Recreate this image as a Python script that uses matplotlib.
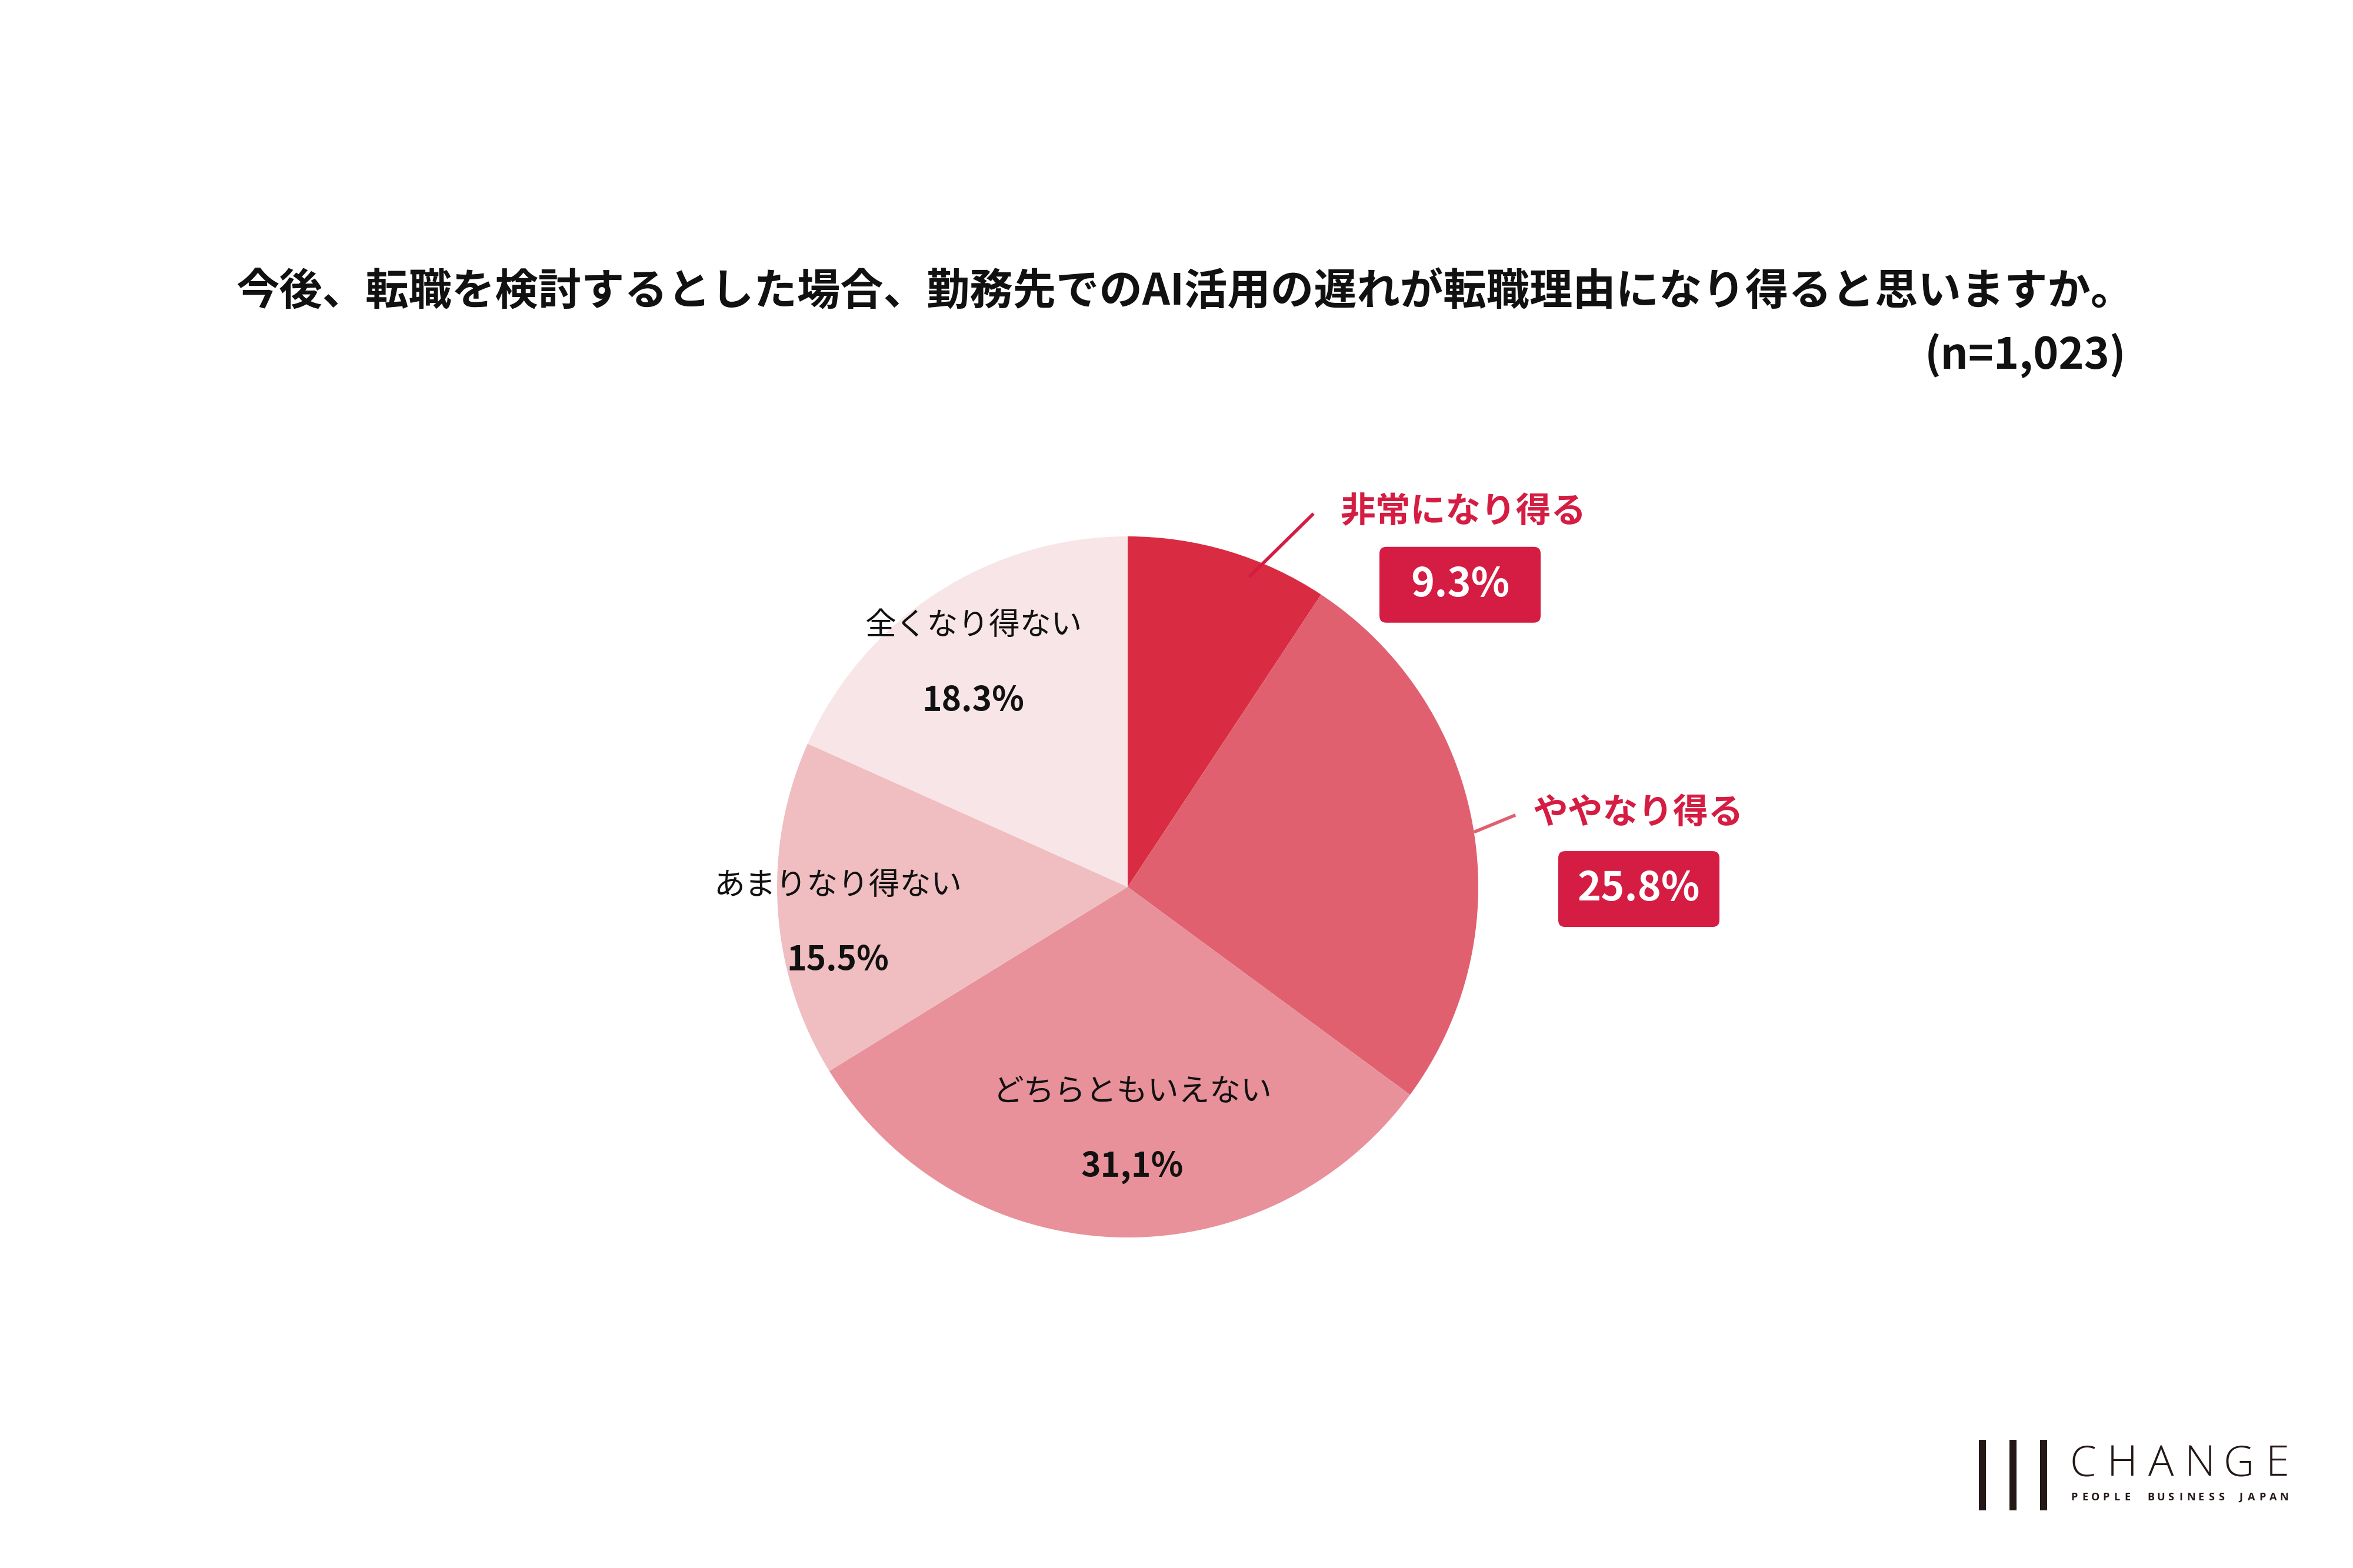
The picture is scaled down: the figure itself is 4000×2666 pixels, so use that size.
import matplotlib
matplotlib.use("Agg")
import matplotlib.pyplot as plt
from matplotlib.patches import FancyBboxPatch, Rectangle
import numpy as np

plt.rcParams['font.family'] = ['Noto Sans CJK JP', 'DejaVu Sans']

# data
labels = ["非常になり得る", "ややなり得る", "どちらともいえない", "あまりなり得ない", "全くなり得ない"]
values = [9.3, 25.8, 31.1, 15.5, 18.3]
value_texts = ["9.3%", "25.8%", "31,1%", "15.5%", "18.3%"]
colors = ["#D92B41", "#E06070", "#E8919A", "#F0BEC1", "#F8E5E7"]

title = "今後、転職を検討するとした場合、勤務先でのAI活用の遅れが転職理由になり得ると思いますか。"
n_text = "(n=1,023)"

accent = "#D51C42"

fig = plt.figure(figsize=(40, 26.66), dpi=100)
fig.patch.set_facecolor("white")

# pie axes: centre (1917, 1508) px, radius 596 px
W, H = 4000, 2666
cx, cy, r = 1917, 1508, 596
ax = fig.add_axes([(cx - r) / W, (H - cy - r) / H, 2 * r / W, 2 * r / H])
wedges, _ = ax.pie(values, colors=colors, startangle=90, counterclock=False,
                   radius=1, wedgeprops=dict(linewidth=0))
ax.set_xlim(-1, 1)
ax.set_ylim(-1, 1)
ax.set_aspect("equal")
ax.axis("off")

# inner labels (slices 3..5): centre of the label pair, in pie units
inner_pos = {2: (0.013, -0.691), 3: (-0.826, -0.102), 4: (-0.440, 0.638)}
for i, (x, y) in inner_pos.items():
    ax.text(x, y + 0.107, labels[i], ha="center", va="center",
            fontsize=38, color="#111111")
    ax.text(x, y - 0.107, value_texts[i], ha="center", va="center",
            fontsize=41, fontweight="bold", color="#111111")

# outer labels (slices 1..2) with leader lines and boxes
outer = [
    # label pos, box centre, leader start angle/radius, leader end, line colour
    ((0.958, 1.068), (0.948, 0.862), 68.6, 0.95, (0.530, 1.065), accent),
    ((1.456, 0.210), (1.458, -0.006), 9.0, 1.0, (1.106, 0.205), "#E06070"),
]
bw, bh = 274 / r, 129 / r
for i, (lpos, bpos, ang, rs, lend, lc) in enumerate(outer):
    m = np.deg2rad(ang)
    ax.plot([rs * np.cos(m), lend[0]], [rs * np.sin(m), lend[1]],
            color=lc, lw=4, solid_capstyle="butt", clip_on=False)
    ax.text(lpos[0], lpos[1], labels[i], ha="center", va="center",
            fontsize=43, fontweight="bold", color=accent, clip_on=False)
    box = FancyBboxPatch((bpos[0] - bw / 2, bpos[1] - bh / 2), bw, bh,
                         boxstyle="round,pad=0,rounding_size=0.02",
                         fc=accent, ec="none", clip_on=False)
    ax.add_patch(box)
    ax.text(bpos[0], bpos[1], value_texts[i], ha="center", va="center",
            fontsize=49, fontweight="bold", color="white", clip_on=False)

# title
fig.text(0.5035, 1 - 497 / H, title, ha="center", va="center",
         fontsize=52.8, fontweight="bold", color="#111111")
fig.text(3614 / W, 1 - 605 / H, n_text, ha="right", va="center",
         fontsize=52.8, fontweight="bold", color="#111111")

# logo
for bx in [3364, 3416, 3468]:
    fig.add_artist(Rectangle((bx / W, 1 - 2568 / H), 12 / W, 120 / H,
                             transform=fig.transFigure, fc="#231815", ec="none"))
word = "CHANGE"
x0, x1 = 3541, 3872
for k, ch in enumerate(word):
    fig.text((x0 + k * (x1 - x0) / (len(word) - 1)) / W, 1 - 2490 / H, ch,
             ha="center", va="center", fontsize=52, family="Open Sans",
             fontweight="light", color="#231815")
sub_words = ["PEOPLE", "BUSINESS", "JAPAN"]
sub_span = [(3526, 3616), (3656, 3776), (3809, 3883)]
for sw, (sa, sb) in zip(sub_words, sub_span):
    for k, ch in enumerate(sw):
        fig.text((sa + k * (sb - sa) / (len(sw) - 1)) / W, 1 - 2546 / H, ch,
                 ha="center", va="center", fontsize=13, family="Open Sans",
                 fontweight="bold", color="#231815")

fig.savefig("out.png", dpi=100, facecolor="white")
